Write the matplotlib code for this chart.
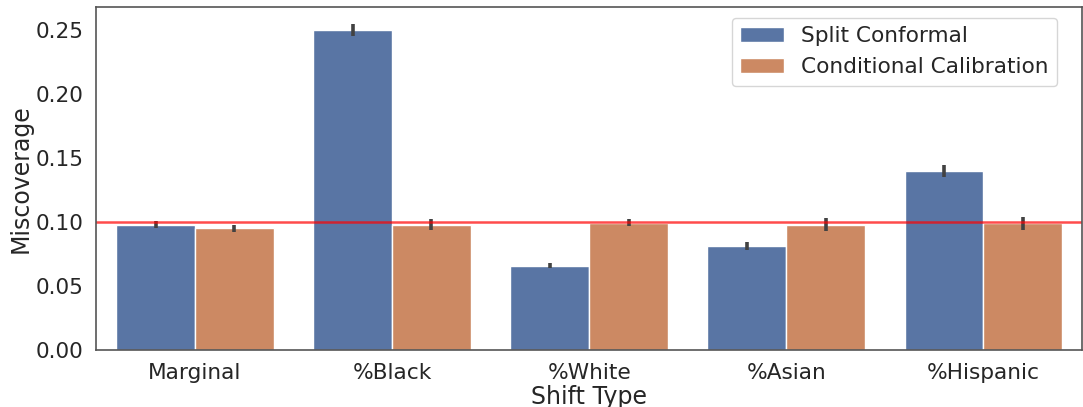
import numpy as np
import matplotlib
matplotlib.use("Agg")
import matplotlib.pyplot as plt
import seaborn as sns

sns.set_theme(style="white", font_scale=1.42)

shift_types = ["Marginal", "%Black", "%White", "%Asian", "%Hispanic"]
methods = ["Split Conformal", "Conditional Calibration"]

split_mean = [0.098, 0.250, 0.066, 0.081, 0.140]
split_err = [0.0025, 0.005, 0.0022, 0.003, 0.0045]
cond_mean = [0.095, 0.098, 0.0995, 0.098, 0.099]
cond_err = [0.003, 0.004, 0.0028, 0.005, 0.005]

target = 0.1

# barplot-style muted colours
palette = [sns.desaturate(c, 0.75) for c in sns.color_palette("deep")[:2]]
fig, ax = plt.subplots(figsize=(10.83, 4.07), dpi=100)

x = np.arange(len(shift_types))
w = 0.4
for i, (means, errs) in enumerate([(split_mean, split_err), (cond_mean, cond_err)]):
    ax.bar(x - w / 2 + i * w, means, width=w, color=palette[i], edgecolor="white",
           linewidth=1, label=methods[i],
           yerr=errs, error_kw=dict(ecolor="#424242", elinewidth=2.6, capsize=0))

ax.axhline(target, color="red", alpha=0.7, linewidth=1.8)

ax.set_xlim(-0.5, len(shift_types) - 0.5)
ax.set_ylim(0, 0.268)
ax.set_xticks(x)
ax.set_xticklabels(shift_types)
ax.set_yticks([0, 0.05, 0.10, 0.15, 0.20, 0.25])
ax.set_yticklabels([f"{v:.2f}" for v in [0, 0.05, 0.10, 0.15, 0.20, 0.25]])
ax.set_xlabel("Shift Type", labelpad=1)
ax.set_ylabel("Miscoverage", labelpad=2)
for s in ax.spines.values():
    s.set_color("#555555")
    s.set_linewidth(1.2)

ax.legend(loc="upper right", bbox_to_anchor=(0.986, 1.0))

plt.subplots_adjust(left=0.089, right=0.999, top=0.983, bottom=0.14)
plt.savefig("out.png")
